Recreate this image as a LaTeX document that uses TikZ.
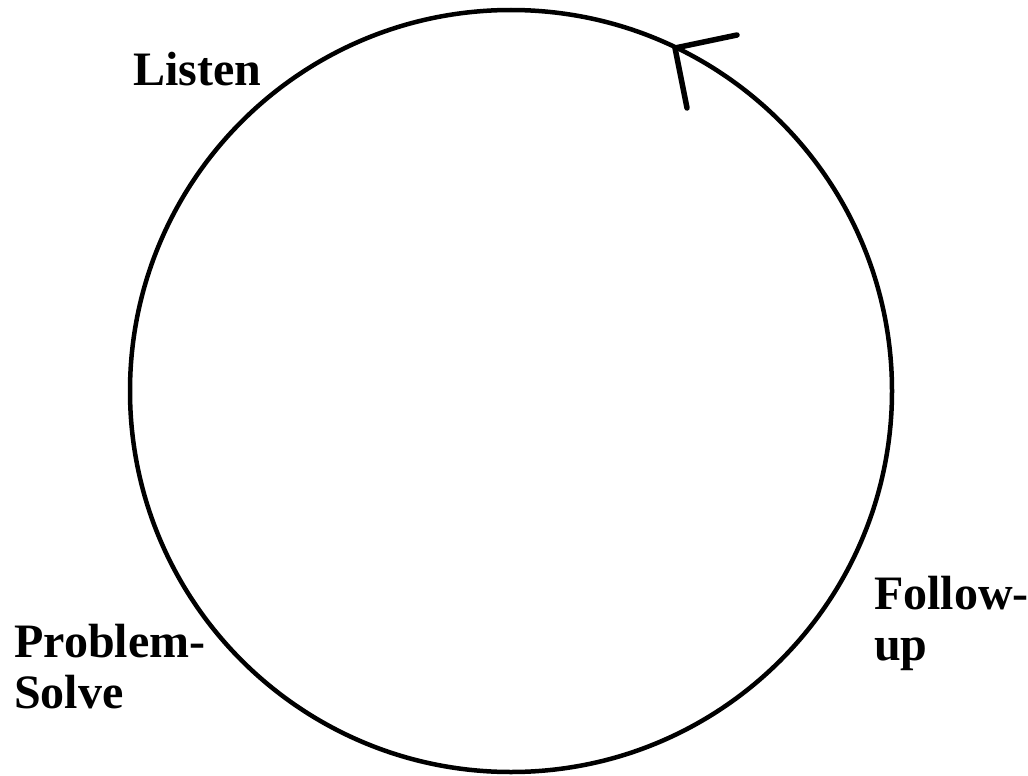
\documentclass[tikz,border=0pt]{standalone}
\usepackage{fontspec}
\setmainfont{Liberation Serif}
\begin{document}
\begin{tikzpicture}[x=1pt,y=-1pt,line width=4.5pt,
  stage/.style={font=\fontsize{48}{51}\selectfont\bfseries,align=left,inner sep=0pt,anchor=base west}]
  \useasboundingbox (0,0) rectangle (1028,776);
  % the cycle
  \draw (511,391) circle[radius=381];
  % open arrowhead on the top arc
  \coordinate (tip) at (675,48);
  \draw[line width=5.5pt,line cap=round] (737,35)--(tip)--(687,108);
  % stages (base = last line)
  \node[stage] (listen) at (131,85) {Listen};
  \node[stage] (solve) at (12,708) {Problem-\\Solve};
  \node[stage] (follow) at (872,660) {Follow-\\up};
\end{tikzpicture}
\end{document}
